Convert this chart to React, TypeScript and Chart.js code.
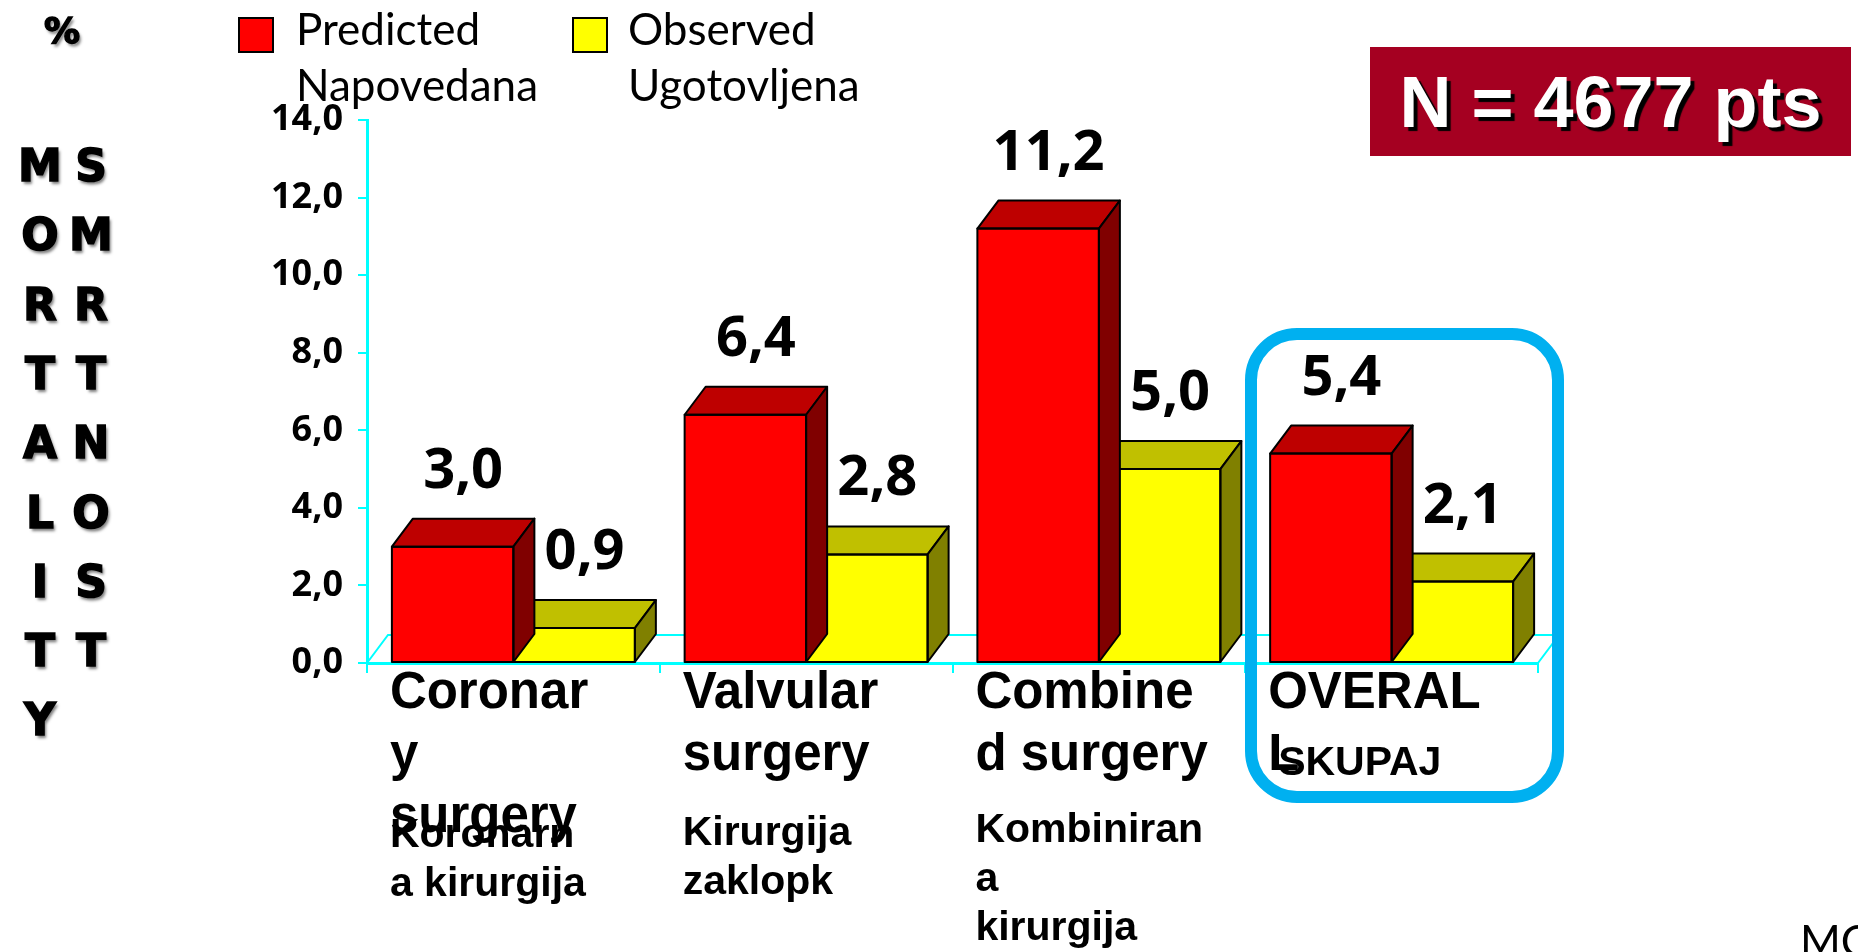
import React, { useEffect, useRef } from "react";
import { Chart, registerables } from "chart.js";

Chart.register(...registerables);

// ---------- data ----------
const categories = ["Coronary surgery", "Valvular surgery", "Combined surgery", "OVERALL"];
const categoryLines = [
  ["Coronar", "y", "surgery"],
  ["Valvular", "surgery"],
  ["Combine", "d surgery"],
  ["OVERAL", "L"],
];
const subLabelLines = [
  ["Koronarn", "a kirurgija"],
  ["Kirurgija", "zaklopk"],
  ["Kombiniran", "a", "kirurgija"],
  ["SKUPAJ"],
];
const predicted = [3.0, 6.4, 11.2, 5.4];
const observed = [0.9, 2.8, 5.0, 2.1];
const predictedName = ["Predicted", "Napovedana"];
const observedName = ["Observed", "Ugotovljena"];
const yMin = 0;
const yMax = 14;
const yStep = 2;
const leftLetters = ["M", "O", "R", "T", "A", "L", "I", "T", "Y"];
const rightLetters = ["S", "M", "R", "T", "N", "O", "S", "T"];
const noteText = "N = 4677 pts";
const cornerText = "MC";

// ---------- styles ----------
const DX = 21;
const DY = -28;
const FACE = [
  { front: "#FF0000", top: "#BE0000", side: "#800000" },
  { front: "#FFFF00", top: "#C0C000", side: "#808000" },
];
const CYAN = "#00FFFF";
const fmt = (v: number) => v.toFixed(1).replace(".", ",");
// first sub-label baseline offset below the axis, per category
const SUB_OFFSET = [184, 182, 179, 112];

const threeD = {
  id: "threeD",
  beforeDatasetsDraw(chart: any) {
    const { ctx, chartArea } = chart;
    const { left, right, bottom } = chartArea;
    ctx.save();
    ctx.strokeStyle = CYAN;
    ctx.lineWidth = 2;
    ctx.beginPath();
    ctx.moveTo(left, bottom);
    ctx.lineTo(left + DX, bottom + DY);
    ctx.lineTo(right + DX, bottom + DY);
    ctx.lineTo(right, bottom);
    ctx.stroke();
    ctx.restore();
  },
  afterDatasetDraw(chart: any, args: any) {
    const { ctx } = chart;
    const colors = FACE[args.index];
    ctx.save();
    ctx.strokeStyle = "#000";
    ctx.lineWidth = 2;
    ctx.lineJoin = "round";
    args.meta.data.forEach((el: any) => {
      const { x, y, base, width } = el.getProps(["x", "y", "base", "width"], true);
      const l = x - width / 2;
      const r = x + width / 2;
      ctx.beginPath();
      ctx.moveTo(l, y);
      ctx.lineTo(l + DX, y + DY);
      ctx.lineTo(r + DX, y + DY);
      ctx.lineTo(r, y);
      ctx.closePath();
      ctx.fillStyle = colors.top;
      ctx.fill();
      ctx.stroke();
      ctx.beginPath();
      ctx.moveTo(r, y);
      ctx.lineTo(r + DX, y + DY);
      ctx.lineTo(r + DX, base + DY);
      ctx.lineTo(r, base);
      ctx.closePath();
      ctx.fillStyle = colors.side;
      ctx.fill();
      ctx.stroke();
      ctx.strokeRect(l, y, width, base - y);
    });
    ctx.restore();
  },
  afterDatasetsDraw(chart: any) {
    const { ctx } = chart;
    ctx.save();
    ctx.fillStyle = "#000";
    ctx.font = "bold 56px 'Open Sans', sans-serif";
    ctx.textAlign = "center";
    ctx.textBaseline = "alphabetic";
    chart.data.datasets.forEach((ds: any, di: number) => {
      chart.getDatasetMeta(di).data.forEach((el: any, i: number) => {
        const { x, y } = el.getProps(["x", "y"], true);
        ctx.fillText(fmt(ds.data[i]), x + DX / 2, y + DY - 31);
      });
    });
    ctx.restore();
  },
  afterDraw(chart: any) {
    const { ctx, chartArea } = chart;
    const meta = chart.getDatasetMeta(0);
    ctx.save();
    ctx.fillStyle = "#000";
    ctx.textAlign = "left";
    ctx.textBaseline = "alphabetic";
    meta.data.forEach((el: any, i: number) => {
      const { x, width } = el.getProps(["x", "width"], true);
      const lx = x - width / 2 - 2;
      ctx.font = "bold 51px 'Liberation Sans', Arial, sans-serif";
      categoryLines[i].forEach((t, k) => {
        ctx.fillText(t, lx, chartArea.bottom + 45 + k * 62);
      });
      ctx.font = "bold 41px 'Liberation Sans', Arial, sans-serif";
      subLabelLines[i].forEach((t, k) => {
        ctx.fillText(t, lx + (i === 3 ? 10 : 0), chartArea.bottom + SUB_OFFSET[i] + k * 49);
      });
    });
    ctx.restore();
  },
};

const letterFont: React.CSSProperties = {
  position: "absolute",
  fontFamily: "'DejaVu Sans', Verdana, sans-serif",
  fontWeight: "bold",
  fontSize: 44,
  lineHeight: 1,
  color: "#000",
  transform: "translate(-50%, -50%)",
  textShadow: "2px 3px 3px rgba(0,0,0,0.5)",
  WebkitTextStroke: "1.5px #000",
};

export default function App() {
  const ref = useRef<HTMLCanvasElement>(null);

  useEffect(() => {
    const chart = new Chart(ref.current as HTMLCanvasElement, {
      type: "bar",
      data: {
        labels: categories,
        datasets: [
          {
            label: predictedName.join(" "),
            data: predicted,
            backgroundColor: FACE[0].front,
            borderWidth: 0,
            categoryPercentage: 0.83,
            barPercentage: 1,
          },
          {
            label: observedName.join(" "),
            data: observed,
            backgroundColor: FACE[1].front,
            borderWidth: 0,
            categoryPercentage: 0.83,
            barPercentage: 1,
          },
        ],
      },
      options: {
        responsive: false,
        animation: false,
        events: [],
        layout: { padding: { left: 0, top: 120, right: 320, bottom: 0 } },
        plugins: { legend: { display: false }, tooltip: { enabled: false } },
        scales: {
          x: {
            z: 1,
            ticks: { display: false },
            grid: {
              display: true,
              drawOnChartArea: false,
              drawTicks: true,
              tickLength: 10,
              color: CYAN,
              lineWidth: 2,
              offset: true,
            },
            border: { display: true, color: CYAN, width: 3 },
            afterFit(s: any) {
              s.height = 952 - 663;
            },
          },
          y: {
            min: yMin,
            max: yMax,
            ticks: {
              stepSize: yStep,
              color: "#000",
              padding: 15,
              font: { family: "'Open Sans', sans-serif", weight: "bold", size: 36 },
              callback: (v: any) => fmt(Number(v)),
            },
            grid: {
              display: true,
              drawOnChartArea: false,
              drawTicks: true,
              tickLength: 9,
              color: CYAN,
              lineWidth: 2,
            },
            border: { display: true, color: CYAN, width: 3 },
            afterFit(s: any) {
              s.width = 367;
            },
          },
        },
      },
      plugins: [threeD],
    } as any);
    return () => chart.destroy();
  }, []);

  const legendText: React.CSSProperties = {
    position: "absolute",
    top: 0,
    fontFamily: "Lato, sans-serif",
    fontSize: 44,
    lineHeight: "56px",
    color: "#000",
    whiteSpace: "nowrap",
  };
  const square: React.CSSProperties = {
    position: "absolute",
    top: 17,
    width: 36,
    height: 36,
    border: "2px solid #000",
    boxSizing: "border-box",
  };

  return (
    <div
      style={{
        position: "fixed",
        left: 0,
        top: 0,
        width: 1858,
        height: 952,
        background: "#fff",
        overflow: "hidden",
      }}
    >
      <canvas
        ref={ref}
        width={1858}
        height={952}
        style={{ position: "absolute", left: 0, top: 0, width: 1858, height: 952 }}
      />

      <div style={{ ...square, left: 238, background: FACE[0].front }} />
      <div style={{ ...legendText, left: 296 }}>
        {predictedName[0]}
        <br />
        {predictedName[1]}
      </div>
      <div style={{ ...square, left: 572, background: FACE[1].front }} />
      <div style={{ ...legendText, left: 628 }}>
        {observedName[0]}
        <br />
        {observedName[1]}
      </div>

      <div style={{ ...letterFont, fontSize: 36, left: 62, top: 31 }}>%</div>
      {leftLetters.map((c, i) => (
        <div key={"l" + i} style={{ ...letterFont, left: 40, top: 166 + i * 69.3 }}>
          {c}
        </div>
      ))}
      {rightLetters.map((c, i) => (
        <div key={"r" + i} style={{ ...letterFont, left: 91, top: 166 + i * 69.3 }}>
          {c}
        </div>
      ))}

      <div
        style={{
          position: "absolute",
          left: 1370,
          top: 47,
          width: 481,
          height: 109,
          background: "#A50021",
          display: "flex",
          alignItems: "center",
          justifyContent: "center",
          color: "#fff",
          fontFamily: "'Liberation Sans', Arial, sans-serif",
          fontWeight: "bold",
          fontSize: 72,
          lineHeight: 1,
          textShadow: "4px 4px 1px #000",
          whiteSpace: "nowrap",
        }}
      >
        {noteText}
      </div>

      <div
        style={{
          position: "absolute",
          left: 1245,
          top: 328,
          width: 319,
          height: 475,
          border: "12px solid #00B0F0",
          borderRadius: 52,
          boxSizing: "border-box",
          pointerEvents: "none",
        }}
      />

      <div
        style={{
          position: "absolute",
          left: 1800,
          top: 918,
          fontFamily: "Lato, sans-serif",
          fontSize: 44,
          lineHeight: 1,
          color: "#000",
        }}
      >
        {cornerText}
      </div>
    </div>
  );
}
